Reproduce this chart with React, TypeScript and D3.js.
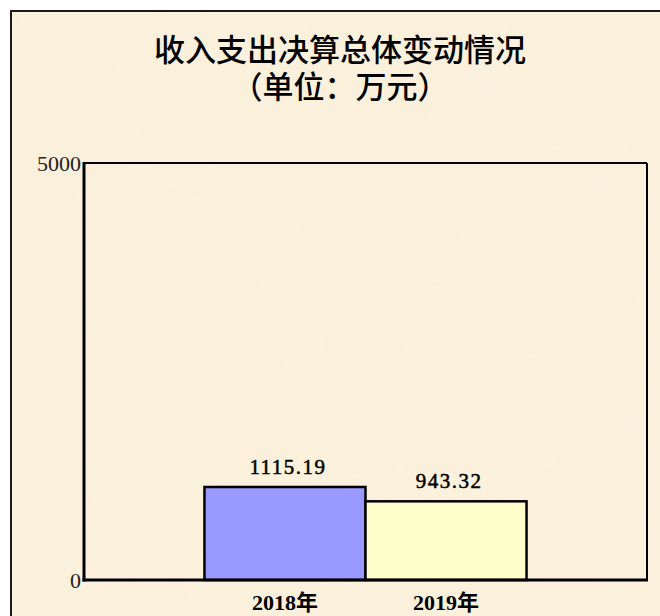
import React from "react";
import * as d3 from "d3";

const titleLines = ["收入支出决算总体变动情况", "（单位：万元）"];
const groups = ["总体"];
const seriesNames = ["2018年", "2019年"];
const seriesValues = [1115.19, 943.32];
const valueLabels = ["1115.19", "943.32"];
const seriesColors = ["#9999ff", "#ffffcc"];
const yTicks = [0, 5000];

const W = 660;
const H = 616;
const plot = { left: 84, top: 163, right: 647, bottom: 580 };

export default function App() {
  const y = d3.scaleLinear().domain([0, 5000]).range([plot.bottom, plot.top]);
  const x0 = d3
    .scaleBand<string>()
    .domain(groups)
    .range([plot.left, plot.right])
    .paddingInner(0)
    .paddingOuter(0.374);
  const x1 = d3
    .scaleBand<string>()
    .domain(seriesNames)
    .range([0, x0.bandwidth()])
    .padding(0);

  const numFont = "'Liberation Serif', 'Noto Sans CJK SC', serif";
  const cjkFont = "'Noto Sans CJK SC', sans-serif";

  return (
    <div style={{ position: "absolute", left: 0, top: 0, width: W, height: H }}>
      <svg width={W} height={H} viewBox={`0 0 ${W} ${H}`} style={{ display: "block" }}>
        <defs>
          <filter id="paper" x="0" y="0" width="100%" height="100%">
            <feTurbulence type="fractalNoise" baseFrequency="0.012 0.018" numOctaves={3} seed={4} result="noise" />
            <feColorMatrix
              in="noise"
              type="matrix"
              values="0 0 0 0 0.94  0 0 0 0 0.87  0 0 0 0 0.74  0 0 0 0.6 -0.2"
              result="tint"
            />
            <feComposite in="tint" in2="SourceGraphic" operator="in" result="tinted" />
            <feMerge>
              <feMergeNode in="SourceGraphic" />
              <feMergeNode in="tinted" />
            </feMerge>
          </filter>
        </defs>
        <rect x={0} y={0} width={W} height={H} fill="#ffffff" />
        <rect x={11} y={11} width={W} height={H} fill="#fbf1dc" filter="url(#paper)" />
        <rect x={11} y={11} width={W + 10} height={H + 10} fill="none" stroke="#1a1a1a" strokeWidth={2} />

        <text textAnchor="middle" fontFamily={cjkFont} fontSize={31} fontWeight={500} fill="#000">
          {titleLines.map((t, i) => (
            <tspan key={i} x={340} y={i === 0 ? 61 : 98}>
              {t}
            </tspan>
          ))}
        </text>

        {/* plot frame */}
        <line x1={plot.left} x2={plot.right} y1={plot.top} y2={plot.top} stroke="#000" strokeWidth={2} />
        <line x1={plot.right} x2={plot.right} y1={plot.top} y2={plot.bottom} stroke="#000" strokeWidth={2} />

        {groups.map((g) =>
          seriesNames.map((s, i) => {
            const bx = (x0(g) ?? 0) + (x1(s) ?? 0);
            const bw = x1.bandwidth();
            const top = y(seriesValues[i]);
            return (
              <g key={s}>
                <rect
                  x={bx}
                  y={top}
                  width={bw}
                  height={y(0) - top}
                  fill={seriesColors[i]}
                  stroke="#000"
                  strokeWidth={2.5}
                />
                <text
                  x={bx + bw / 2 + 3}
                  y={top - 13}
                  textAnchor="middle"
                  fontFamily={numFont}
                  fontSize={21}
                  letterSpacing={1.5}
                  stroke="#000"
                  strokeWidth={0.5}
                  fill="#000"
                >
                  {valueLabels[i]}
                </text>
                <text
                  x={bx + bw / 2}
                  y={610}
                  textAnchor="middle"
                  fontFamily={numFont}
                  fontSize={22}
                  fontWeight="bold"
                  fill="#000"
                >
                  {s}
                </text>
              </g>
            );
          })
        )}

        <line x1={plot.left} x2={plot.left} y1={plot.top - 1} y2={plot.bottom + 1.5} stroke="#000" strokeWidth={3} />
        <line x1={plot.left - 1.5} x2={plot.right + 1} y1={plot.bottom} y2={plot.bottom} stroke="#000" strokeWidth={3} />

        {yTicks.map((t) => (
          <text
            key={t}
            x={plot.left - 3}
            y={y(t)}
            dy="0.35em"
            textAnchor="end"
            fontFamily={numFont}
            fontSize={22}
            fill="#222"
          >
            {t}
          </text>
        ))}
      </svg>
    </div>
  );
}
